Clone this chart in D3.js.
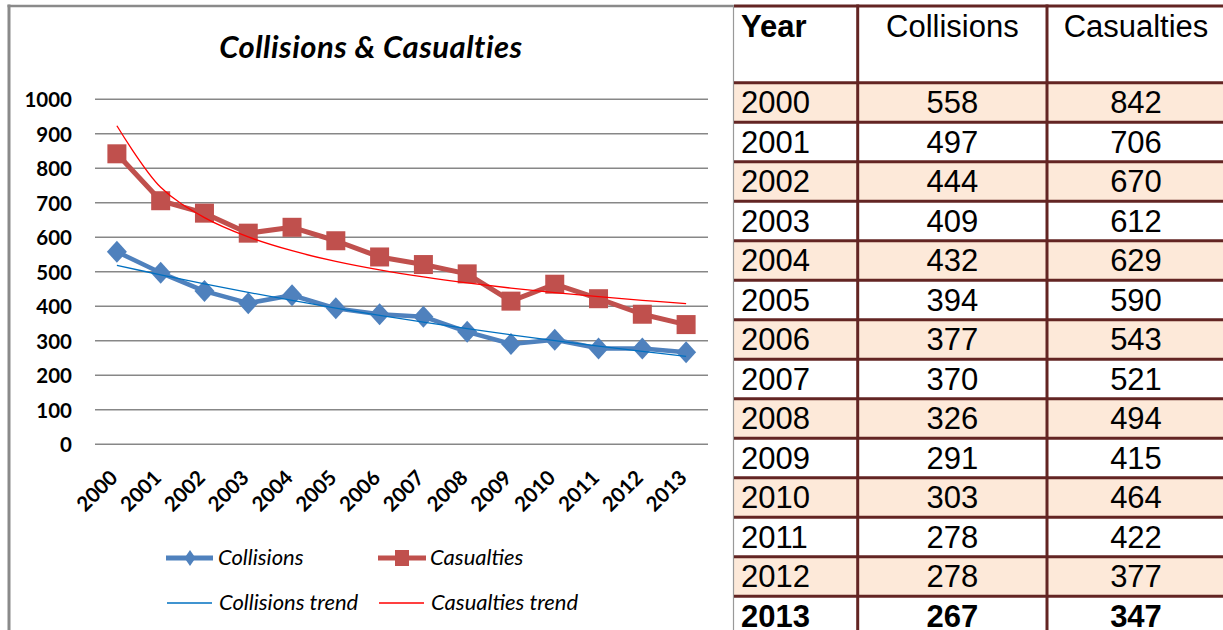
<!DOCTYPE html>
<html>
<head>
<meta charset="utf-8">
<script src="https://cdn.jsdelivr.net/npm/d3@7"></script>
<style>
  html, body { margin: 0; padding: 0; background: #ffffff; }
  svg { display: block; }
</style>
</head>
<body>
<svg id="chart" width="1223" height="630"></svg>
<script>
// ---------- data ----------
const years = ["2000","2001","2002","2003","2004","2005","2006","2007","2008","2009","2010","2011","2012","2013"];
const collisions = [558, 497, 444, 409, 432, 394, 377, 370, 326, 291, 303, 278, 278, 267];
const casualties = [842, 706, 670, 612, 629, 590, 543, 521, 494, 415, 464, 422, 377, 347];
const yTicks = [0, 100, 200, 300, 400, 500, 600, 700, 800, 900, 1000];
const tableHeader = ["Year", "Collisions", "Casualties"];
const chartTitle = "Collisions & Casualties";
const legendItems = ["Collisions", "Casualties", "Collisions trend", "Casualties trend"];

// ---------- styles ----------
const BLUE = "#4F81BD", RED = "#C0504D", BLUE_TREND = "#0070C0", RED_TREND = "#FF0000";
const GRID = "#878787", TBL = "#632523", PEACH = "#FDE9D9";
const CAL = "Lato, 'Open Sans', sans-serif";
const ARIAL = "'Liberation Sans', Arial, sans-serif";

const svg = d3.select("#chart");

// ---------- trend fits (Excel-style least squares) ----------
const idx = years.map((d, i) => i + 1);
function expFit(ys) { // y = a*exp(b*x)
  const lx = idx, ly = ys.map(Math.log);
  const mx = d3.mean(lx), my = d3.mean(ly);
  const b = d3.sum(lx, (x, i) => (x - mx) * (ly[i] - my)) / d3.sum(lx, x => (x - mx) ** 2);
  const a = Math.exp(my - b * mx);
  return idx.map(x => a * Math.exp(b * x));
}
function powFit(ys) { // y = a*x^b
  const lx = idx.map(Math.log), ly = ys.map(Math.log);
  const mx = d3.mean(lx), my = d3.mean(ly);
  const b = d3.sum(lx, (x, i) => (x - mx) * (ly[i] - my)) / d3.sum(lx, x => (x - mx) ** 2);
  const a = Math.exp(my - b * mx);
  return idx.map(x => a * Math.pow(x, b));
}
const collTrend = expFit(collisions);
const casTrend = powFit(casualties);

// ---------- chart frame ----------
svg.append("line").attr("x1", 9).attr("y1", 4.5).attr("x2", 9).attr("y2", 640)
  .attr("stroke", "#8a8a8a").attr("stroke-width", 3);
svg.append("line").attr("x1", 7.5).attr("y1", 6).attr("x2", 734).attr("y2", 6)
  .attr("stroke", "#8a8a8a").attr("stroke-width", 2.5);

// title
svg.append("text").attr("x", 371).attr("y", 58).attr("text-anchor", "middle")
  .attr("font-family", CAL).attr("font-weight", "bold").attr("font-style", "italic")
  .attr("font-size", 31).attr("letter-spacing", 0.5).attr("fill", "#000").text(chartTitle);

// ---------- scales ----------
const x = d3.scalePoint().domain(years).range([95, 708]).padding(0.5);
const y = d3.scaleLinear().domain([0, 1000]).range([444.3, 99.3]);

// gridlines
svg.append("g").selectAll("line").data(yTicks).join("line")
  .attr("x1", 95).attr("x2", 708)
  .attr("y1", d => y(d)).attr("y2", d => y(d))
  .attr("stroke", GRID).attr("stroke-width", 1.4);

// y axis labels
const yAxis = d3.axisLeft(y).tickValues(yTicks).tickSize(0).tickPadding(0).tickFormat(d3.format("d"));
const gy = svg.append("g").attr("transform", "translate(72,0)").call(yAxis);
gy.select(".domain").remove();
gy.selectAll("text").attr("font-family", CAL).attr("font-weight", "bold")
  .attr("font-size", 20.5).attr("fill", "#000").attr("dy", "0.36em");

// x axis labels
svg.append("g").selectAll("text").data(years).join("text")
  .attr("transform", d => `translate(${x(d) + 2},479) rotate(-45)`)
  .attr("text-anchor", "end")
  .attr("font-family", CAL).attr("font-weight", "bold").attr("font-size", 20.5)
  .attr("fill", "#000").text(d => d);

// ---------- series ----------
const line = d3.line().x((d, i) => x(years[i])).y(d => y(d));
const trendLine = d3.line().x((d, i) => x(years[i])).y(d => y(d)).curve(d3.curveCatmullRom.alpha(0.5));

svg.append("path").datum(collisions).attr("d", line)
  .attr("fill", "none").attr("stroke", BLUE).attr("stroke-width", 4.5).attr("stroke-linejoin", "round");
svg.append("path").datum(casualties).attr("d", line)
  .attr("fill", "none").attr("stroke", RED).attr("stroke-width", 5).attr("stroke-linejoin", "round");

function diamond(hw, hh) { return `M0,${-hh}L${hw},0L0,${hh}L${-hw},0Z`; }

svg.append("g").selectAll("path").data(collisions).join("path")
  .attr("transform", (d, i) => `translate(${x(years[i])},${y(d)})`)
  .attr("d", diamond(10, 11)).attr("fill", BLUE);
svg.append("g").selectAll("rect").data(casualties).join("rect")
  .attr("x", (d, i) => x(years[i]) - 9.5).attr("y", d => y(d) - 9.5)
  .attr("width", 19).attr("height", 19).attr("fill", RED);

svg.append("path").datum(collTrend).attr("d", trendLine)
  .attr("fill", "none").attr("stroke", BLUE_TREND).attr("stroke-width", 1.3);
svg.append("path").datum(casTrend).attr("d", trendLine)
  .attr("fill", "none").attr("stroke", RED_TREND).attr("stroke-width", 1.3);

// ---------- legend ----------
const leg = [
  { x: 166, y: 558, type: "coll" },
  { x: 378, y: 558, type: "cas" },
  { x: 167, y: 603, type: "ctrend" },
  { x: 379, y: 603, type: "rtrend" }
];
const lg = svg.append("g").selectAll("g").data(leg).join("g")
  .attr("transform", d => `translate(${d.x},${d.y})`);
lg.each(function(d, i) {
  const g = d3.select(this);
  if (d.type === "coll") {
    g.append("line").attr("x1", 0).attr("x2", 47).attr("stroke", BLUE).attr("stroke-width", 5);
    g.append("path").attr("transform", "translate(24,0)").attr("d", diamond(5.5, 8)).attr("fill", BLUE);
  } else if (d.type === "cas") {
    g.append("line").attr("x1", 0).attr("x2", 48).attr("stroke", RED).attr("stroke-width", 5);
    g.append("rect").attr("x", 17).attr("y", -8).attr("width", 14).attr("height", 16).attr("fill", RED);
  } else {
    g.append("line").attr("x1", 0).attr("x2", 45)
      .attr("stroke", d.type === "ctrend" ? BLUE_TREND : RED_TREND).attr("stroke-width", 1.3);
  }
  g.append("text").attr("x", 52).attr("y", 7)
    .attr("font-family", CAL).attr("font-style", "italic").attr("font-size", 22)
    .attr("fill", "#000").text(legendItems[i]);
});

// ---------- table ----------
const colX = [733, 857.7, 1047, 1225];
const headTop = 6, headBottom = 82.7, rowH = 39.5;
const tg = svg.append("g");
// peach rows
tg.selectAll("rect.band").data(years).join("rect").attr("class", "band")
  .attr("x", colX[0]).attr("width", colX[3] - colX[0])
  .attr("y", (d, i) => headBottom + i * rowH).attr("height", rowH)
  .attr("fill", (d, i) => i % 2 === 0 ? PEACH : "#ffffff");
// left grey border
tg.append("line").attr("x1", 733.5).attr("x2", 733.5).attr("y1", 5).attr("y2", 640)
  .attr("stroke", "#999").attr("stroke-width", 1.2);
// horizontal lines
const hLines = [headTop, headBottom].concat(years.map((d, i) => headBottom + (i + 1) * rowH));
tg.selectAll("line.h").data(hLines).join("line").attr("class", "h")
  .attr("x1", 734).attr("x2", 1230).attr("y1", d => d).attr("y2", d => d)
  .attr("stroke", TBL).attr("stroke-width", 3);
// vertical lines
tg.selectAll("line.v").data([colX[1], colX[2], colX[3]]).join("line").attr("class", "v")
  .attr("x1", d => d).attr("x2", d => d).attr("y1", headTop - 1.5).attr("y2", 640)
  .attr("stroke", TBL).attr("stroke-width", 3);
// header
tg.selectAll("text.head").data(tableHeader).join("text").attr("class", "head")
  .attr("x", (d, i) => i === 0 ? 741 : (colX[i] + colX[i + 1]) / 2)
  .attr("y", 36.5)
  .attr("text-anchor", (d, i) => i === 0 ? "start" : "middle")
  .attr("font-family", ARIAL).attr("font-size", 31)
  .attr("font-weight", (d, i) => i === 0 ? "bold" : "normal")
  .attr("fill", "#000").text(d => d);
// rows
const rows = years.map((yr, i) => [yr, collisions[i], casualties[i]]);
const rg = tg.selectAll("g.row").data(rows).join("g").attr("class", "row")
  .attr("transform", (d, i) => `translate(0,${headBottom + i * rowH + 30.6})`);
rg.selectAll("text").data((d, ri) => d.map(v => ({ v, last: ri === rows.length - 1 }))).join("text")
  .attr("x", (d, i) => i === 0 ? 741 : (colX[i] + colX[i + 1]) / 2)
  .attr("text-anchor", (d, i) => i === 0 ? "start" : "middle")
  .attr("font-family", ARIAL).attr("font-size", 31)
  .attr("font-weight", d => d.last ? "bold" : "normal")
  .attr("fill", "#000").text(d => d.v);
</script>
</body>
</html>
